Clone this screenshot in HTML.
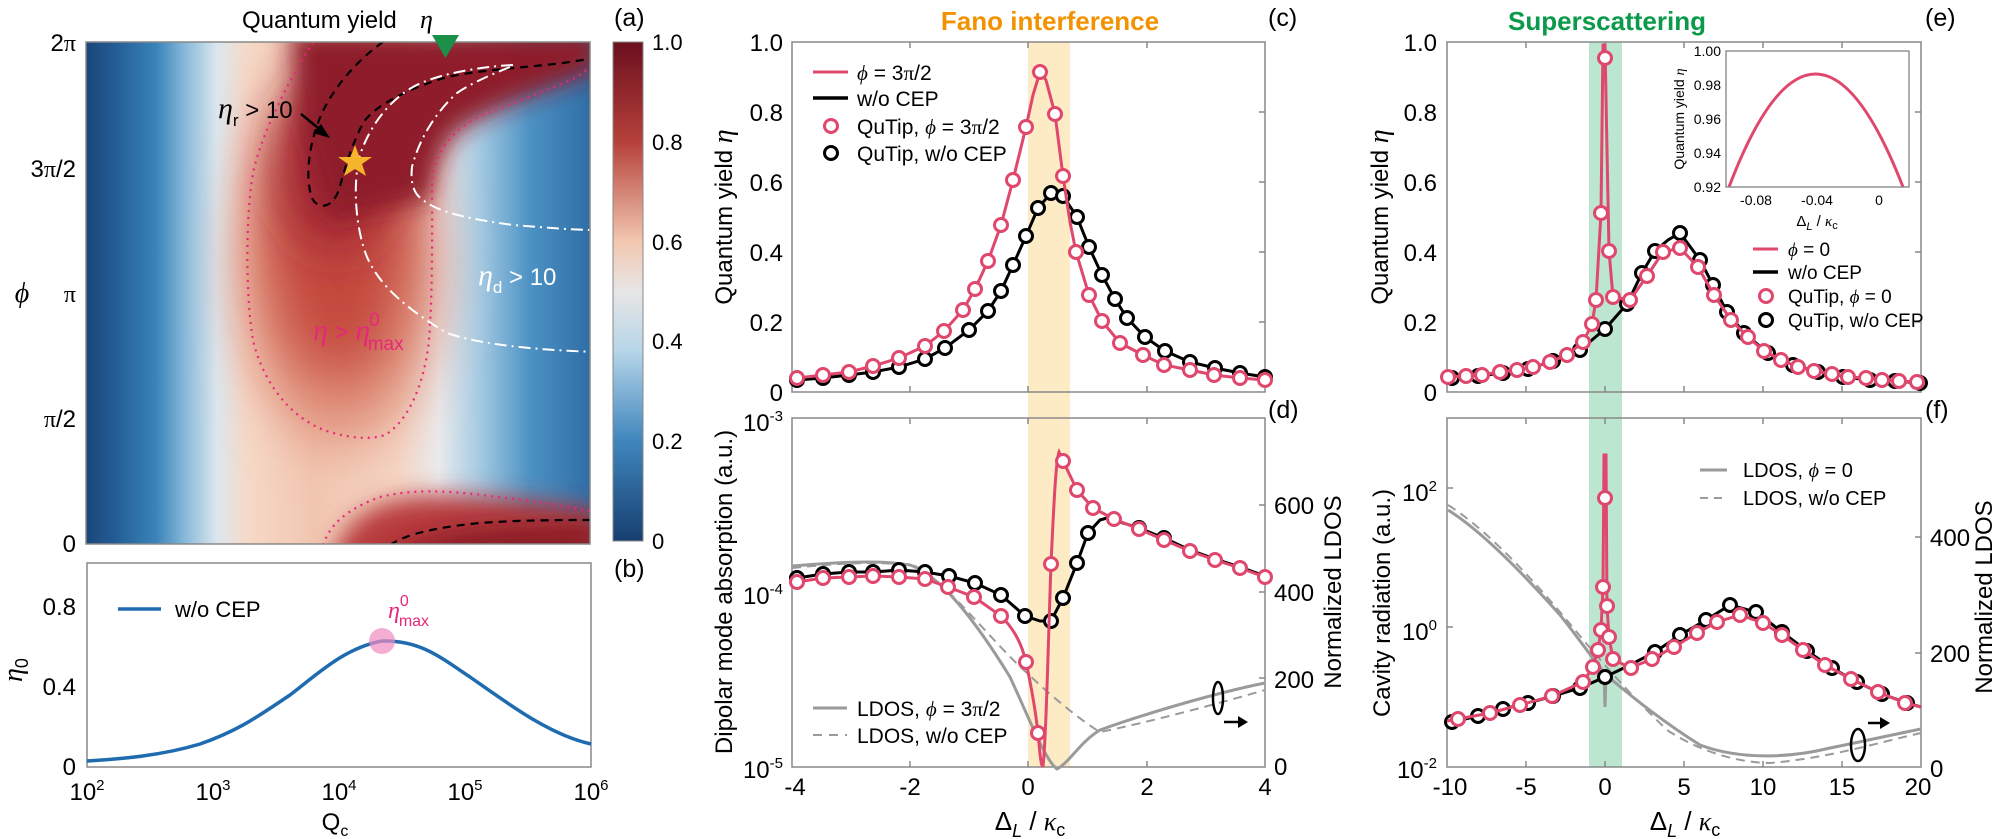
<!DOCTYPE html>
<html><head><meta charset="utf-8"><style>
body{margin:0;background:#fff}
svg{display:block;font-family:"Liberation Sans",sans-serif}
</style></head><body>
<svg width="2000" height="839" viewBox="0 0 2000 839" xmlns="http://www.w3.org/2000/svg">
<defs>
<linearGradient id="base" x1="0" y1="0" x2="1" y2="0">
<stop offset="0" stop-color="#1a4679"/><stop offset="0.06" stop-color="#245d96"/><stop offset="0.14" stop-color="#3a84bb"/><stop offset="0.2" stop-color="#8dbcdb"/><stop offset="0.26" stop-color="#dce7ee"/><stop offset="0.32" stop-color="#f6d9c8"/><stop offset="0.45" stop-color="#f1c6b0"/><stop offset="0.62" stop-color="#f5d6c5"/><stop offset="0.7" stop-color="#eaebed"/><stop offset="0.78" stop-color="#a6cbe3"/><stop offset="0.88" stop-color="#4d92c4"/><stop offset="1" stop-color="#2f6ea6"/>
</linearGradient>
<linearGradient id="cb" x1="0" y1="0" x2="0" y2="1">
<stop offset="0" stop-color="#6b0f1e"/><stop offset="0.2" stop-color="#b5413a"/><stop offset="0.4" stop-color="#f2c7b0"/><stop offset="0.5" stop-color="#e8e6e6"/><stop offset="0.62" stop-color="#b6d5e8"/><stop offset="0.8" stop-color="#3f86bd"/><stop offset="1" stop-color="#173f70"/>
</linearGradient>
<filter id="bl" x="-60%" y="-60%" width="220%" height="220%"><feGaussianBlur stdDeviation="28"/></filter>
<filter id="bl2" x="-60%" y="-60%" width="220%" height="220%"><feGaussianBlur stdDeviation="12"/></filter>
<clipPath id="ca"><rect x="86" y="42" width="504" height="502"/></clipPath>
</defs>

<!-- Panel a heatmap -->
<g clip-path="url(#ca)">
<rect x="86" y="42" width="504" height="502" fill="url(#base)"/>
<ellipse cx="340" cy="270" rx="95" ry="175" fill="#e0907a" filter="url(#bl)"/>
<ellipse cx="338" cy="240" rx="70" ry="140" fill="#c4493d" filter="url(#bl)"/>
<ellipse cx="335" cy="160" rx="55" ry="90" fill="#9c2430" filter="url(#bl)"/>
<path d="M290 30 L600 30 L600 70 C560 85 500 105 460 130 C440 150 432 180 430 200 L330 220 L300 120 Z" fill="#8e1c2a" filter="url(#bl2)"/>
<path d="M330 570 C340 520 370 500 430 495 C500 495 560 505 600 512 L600 570 Z" fill="#b83a3c" filter="url(#bl2)"/>
<path d="M380 570 C410 532 470 524 600 522 L600 570 Z" fill="#8a1a28" filter="url(#bl2)"/>
<!-- contours -->
<path d="M313 42 C295 70 262 130 253 173 C245 220 246 300 253 340 C262 380 290 420 330 432 C350 438 370 440 385 435 C410 420 425 380 429 340 C433 290 432 220 432 180 C436 150 455 125 490 112 C520 100 550 90 577 77 L595 64" fill="none" stroke="#e6287a" stroke-width="2.2" stroke-dasharray="2 5"/>
<path d="M323 545 C330 525 345 510 380 497 C410 490 440 489 497 497 C530 500 560 505 595 512" fill="none" stroke="#e6287a" stroke-width="2.2" stroke-dasharray="2 5"/>
<path d="M383 42 C360 58 335 85 322 113 C310 140 304 175 312 198 C318 210 332 208 338 192 C344 175 347 155 363 123 C375 105 410 88 447 77 C480 70 520 68 563 63 L595 58" fill="none" stroke="#000" stroke-width="2.2" stroke-dasharray="8 6"/>
<path d="M390 545 C405 535 430 528 480 523 C520 520 560 520 595 520" fill="none" stroke="#000" stroke-width="2.2" stroke-dasharray="8 6"/>
<path d="M513 65 C490 66 440 72 413 87 C390 100 370 125 360 155 C352 185 356 230 367 257 C378 282 400 305 447 333 C480 345 540 350 595 352" fill="none" stroke="#fff" stroke-width="2" stroke-dasharray="12 5 2 5"/>
<path d="M510 67 C490 75 470 84 457 93 C440 108 420 135 412 167 C410 185 415 195 423 200 C435 210 460 218 513 225 C550 228 575 230 595 230" fill="none" stroke="#fff" stroke-width="2" stroke-dasharray="12 5 2 5"/>
</g>
<rect x="86" y="42" width="504" height="502" fill="none" stroke="#888" stroke-width="1.5"/>
<polygon points="355,145 359.5,157 372,157 362,164 366,176 355,169 344,176 348,164 338,157 350.5,157" fill="#f6b42a"/>
<polygon points="432,35 459,35 445.5,58" fill="#1a9048"/>
<text x="242" y="28" font-size="24">Quantum yield</text>
<text x="420" y="28" font-size="26" font-style="italic" font-family="Liberation Serif,serif">η</text>
<text x="218" y="118" font-size="24"><tspan font-style="italic" font-family="Liberation Serif,serif" font-size="30">η</tspan><tspan font-size="17" dy="8">r</tspan><tspan dy="-8"> &gt; 10</tspan></text>
<line x1="301" y1="114" x2="323" y2="132" stroke="#000" stroke-width="2.5"/>
<polygon points="330,138 313,133 321,124" fill="#000"/>
<text x="478" y="285" font-size="24" fill="#fff"><tspan font-style="italic" font-family="Liberation Serif,serif" font-size="30">η</tspan><tspan font-size="17" dy="8">d</tspan><tspan dy="-8"> &gt; 10</tspan></text>
<text x="313" y="340" font-size="24" fill="#e6287a"><tspan font-style="italic" font-family="Liberation Serif,serif" font-size="30">η</tspan> &gt; <tspan font-style="italic" font-family="Liberation Serif,serif" font-size="30">η</tspan><tspan font-size="19" dx="-1" dy="-14">0</tspan><tspan font-size="19" dx="-12" dy="24">max</tspan></text>
<g font-size="24" text-anchor="end">
<text x="76" y="51">2<tspan font-family="Liberation Serif,serif">π</tspan></text>
<text x="76" y="177">3<tspan font-family="Liberation Serif,serif">π</tspan>/2</text>
<text x="76" y="302"><tspan font-family="Liberation Serif,serif">π</tspan></text>
<text x="76" y="427"><tspan font-family="Liberation Serif,serif">π</tspan>/2</text>
<text x="76" y="552">0</text>
</g>
<text x="22" y="302" font-size="28" font-style="italic" font-family="Liberation Serif,serif" text-anchor="middle">ϕ</text>
<!-- colorbar -->
<rect x="613" y="42" width="30" height="499" fill="url(#cb)" stroke="#888" stroke-width="1"/>
<g font-size="22">
<text x="652" y="50">1.0</text><text x="652" y="150">0.8</text><text x="652" y="250">0.6</text><text x="652" y="349">0.4</text><text x="652" y="449">0.2</text><text x="652" y="549">0</text>
</g>
<text x="614" y="26" font-size="25">(a)</text>
<text x="614" y="577" font-size="25">(b)</text>

<!-- Panel b -->
<rect x="87" y="563" width="504" height="204" fill="none" stroke="#888" stroke-width="1.5"/>
<path d="M87 761 C120 759 160 756 200 744 C240 730 260 715 290 695 C320 672 345 648 382 641 C420 640 440 657 470 677 C510 705 550 735 591 744" fill="none" stroke="#1e6bb0" stroke-width="3.5"/>
<ellipse cx="382" cy="641" rx="13" ry="13" fill="#f08cc0" opacity="0.7"/>
<line x1="118" y1="609" x2="161" y2="609" stroke="#1e6bb0" stroke-width="3.5"/>
<text x="175" y="617" font-size="22">w/o CEP</text>
<text x="388" y="618" font-size="16" fill="#e6287a"><tspan font-style="italic" font-family="Liberation Serif,serif" font-size="24">η</tspan><tspan dy="-12">0</tspan><tspan dx="-10" dy="20">max</tspan></text>
<g font-size="24" text-anchor="end">
<text x="76" y="615">0.8</text><text x="76" y="695">0.4</text><text x="76" y="775">0</text>
</g>
<text x="22" y="670" font-size="28" font-style="italic" font-family="Liberation Serif,serif" text-anchor="middle" transform="rotate(-90 22 670)">η<tspan font-size="18" font-style="normal" font-family="Liberation Sans,sans-serif" dy="6">0</tspan></text>
<g font-size="24" text-anchor="middle">
<text x="87" y="800">10<tspan font-size="15" dy="-10">2</tspan></text>
<text x="213" y="800">10<tspan font-size="15" dy="-10">3</tspan></text>
<text x="339" y="800">10<tspan font-size="15" dy="-10">4</tspan></text>
<text x="465" y="800">10<tspan font-size="15" dy="-10">5</tspan></text>
<text x="591" y="800">10<tspan font-size="15" dy="-10">6</tspan></text>
<text x="335" y="830">Q<tspan font-size="16" dy="6">c</tspan></text>
</g>

<!-- Titles -->
<text x="1050" y="30" font-size="26" font-weight="bold" fill="#f39200" text-anchor="middle">Fano interference</text>
<text x="1607" y="30" font-size="26" font-weight="bold" fill="#0a9a4a" text-anchor="middle">Superscattering</text>
<text x="1268" y="26" font-size="25">(c)</text>
<text x="1268" y="418" font-size="25">(d)</text>
<text x="1925" y="26" font-size="25">(e)</text>
<text x="1925" y="418" font-size="25">(f)</text>

<!-- Panel c -->
<rect x="1028" y="42" width="42" height="725" fill="#fdebc6"/>
<rect x="792" y="42" width="473" height="350" fill="none" stroke="#888" stroke-width="1.5"/>
<g stroke="#888" stroke-width="1.5">
<line x1="910" y1="42" x2="910" y2="48"/><line x1="1028" y1="42" x2="1028" y2="48"/><line x1="1147" y1="42" x2="1147" y2="48"/>
<line x1="910" y1="392" x2="910" y2="386"/><line x1="1028" y1="392" x2="1028" y2="386"/><line x1="1147" y1="392" x2="1147" y2="386"/>
<line x1="1265" y1="112" x2="1259" y2="112"/><line x1="1265" y1="182" x2="1259" y2="182"/><line x1="1265" y1="252" x2="1259" y2="252"/><line x1="1265" y1="322" x2="1259" y2="322"/>
</g>
<polyline fill="none" stroke="#000" stroke-width="3" points="797,380 823,378 849,375 873,372 899,367 925,359 945,348 969,330 988,311 1001,291 1013,265 1026,236 1038,208 1051,193 1063,196 1077,217 1089,247 1102,275 1115,299 1127,318 1145,337 1165,351 1190,362 1215,368 1240,373 1265,377"/>
<g fill="#fff" stroke="#000" stroke-width="3">
<circle cx="797" cy="380" r="6.5"/><circle cx="823" cy="378" r="6.5"/><circle cx="849" cy="375" r="6.5"/><circle cx="873" cy="372" r="6.5"/><circle cx="899" cy="367" r="6.5"/><circle cx="925" cy="359" r="6.5"/><circle cx="945" cy="348" r="6.5"/><circle cx="969" cy="330" r="6.5"/><circle cx="988" cy="311" r="6.5"/><circle cx="1001" cy="291" r="6.5"/><circle cx="1013" cy="265" r="6.5"/><circle cx="1026" cy="236" r="6.5"/><circle cx="1038" cy="208" r="6.5"/><circle cx="1051" cy="193" r="6.5"/><circle cx="1063" cy="196" r="6.5"/><circle cx="1077" cy="217" r="6.5"/><circle cx="1089" cy="247" r="6.5"/><circle cx="1102" cy="275" r="6.5"/><circle cx="1115" cy="299" r="6.5"/><circle cx="1127" cy="318" r="6.5"/><circle cx="1145" cy="337" r="6.5"/><circle cx="1165" cy="351" r="6.5"/><circle cx="1190" cy="362" r="6.5"/><circle cx="1215" cy="368" r="6.5"/><circle cx="1240" cy="373" r="6.5"/><circle cx="1265" cy="377" r="6.5"/>
</g>
<polyline fill="none" stroke="#e0476d" stroke-width="3" points="797,378 823,375 849,372 873,366 899,358 925,346 944,331 963,310 975,289 988,261 1001,225 1013,180 1026,127 1033,95 1040,72 1046,80 1055,114 1063,176 1070,222 1076,252 1089,295 1102,321 1120,343 1143,355 1164,365 1190,370 1214,375 1240,378 1265,380"/>
<g fill="#fff" stroke="#e0476d" stroke-width="3">
<circle cx="797" cy="378" r="6.5"/><circle cx="823" cy="375" r="6.5"/><circle cx="849" cy="372" r="6.5"/><circle cx="873" cy="366" r="6.5"/><circle cx="899" cy="358" r="6.5"/><circle cx="925" cy="346" r="6.5"/><circle cx="944" cy="331" r="6.5"/><circle cx="963" cy="310" r="6.5"/><circle cx="975" cy="289" r="6.5"/><circle cx="988" cy="261" r="6.5"/><circle cx="1001" cy="225" r="6.5"/><circle cx="1013" cy="180" r="6.5"/><circle cx="1026" cy="127" r="6.5"/><circle cx="1040" cy="72" r="6.5"/><circle cx="1055" cy="114" r="6.5"/><circle cx="1063" cy="176" r="6.5"/><circle cx="1076" cy="252" r="6.5"/><circle cx="1089" cy="295" r="6.5"/><circle cx="1102" cy="321" r="6.5"/><circle cx="1120" cy="343" r="6.5"/><circle cx="1143" cy="355" r="6.5"/><circle cx="1164" cy="365" r="6.5"/><circle cx="1190" cy="370" r="6.5"/><circle cx="1214" cy="375" r="6.5"/><circle cx="1240" cy="378" r="6.5"/><circle cx="1265" cy="380" r="6.5"/>
</g>
<line x1="813" y1="72" x2="848" y2="72" stroke="#e0476d" stroke-width="3"/>
<line x1="813" y1="98" x2="848" y2="98" stroke="#000" stroke-width="3.5"/>
<circle cx="831" cy="126" r="6.5" fill="#fff" stroke="#e0476d" stroke-width="3"/>
<circle cx="831" cy="153" r="6.5" fill="#fff" stroke="#000" stroke-width="3"/>
<g font-size="21">
<text x="857" y="80"><tspan font-style="italic" font-family="Liberation Serif,serif">ϕ</tspan> = 3<tspan font-family="Liberation Serif,serif">π</tspan>/2</text>
<text x="857" y="106">w/o CEP</text>
<text x="857" y="134">QuTip, <tspan font-style="italic" font-family="Liberation Serif,serif">ϕ</tspan> = 3<tspan font-family="Liberation Serif,serif">π</tspan>/2</text>
<text x="857" y="161">QuTip, w/o CEP</text>
</g>
<g font-size="24" text-anchor="end">
<text x="783" y="51">1.0</text><text x="783" y="121">0.8</text><text x="783" y="191">0.6</text><text x="783" y="261">0.4</text><text x="783" y="331">0.2</text><text x="783" y="401">0</text>
</g>
<text x="0" y="0" font-size="24" text-anchor="middle" transform="translate(732 217) rotate(-90)">Quantum yield <tspan font-style="italic" font-family="Liberation Serif,serif" font-size="28">η</tspan></text>

<!-- Panel d -->
<rect x="792" y="418" width="473" height="349" fill="none" stroke="#888" stroke-width="1.5"/>
<g stroke="#888" stroke-width="1.5">
<line x1="910" y1="418" x2="910" y2="424"/><line x1="1028" y1="418" x2="1028" y2="424"/><line x1="1147" y1="418" x2="1147" y2="424"/>
<line x1="910" y1="767" x2="910" y2="761"/><line x1="1028" y1="767" x2="1028" y2="761"/><line x1="1147" y1="767" x2="1147" y2="761"/>
<line x1="1265" y1="505" x2="1259" y2="505"/><line x1="1265" y1="592" x2="1259" y2="592"/><line x1="1265" y1="678" x2="1259" y2="678"/>
</g>
<path d="M792 566 C840 562 880 560 910 565 C940 575 975 620 1010 677 C1030 720 1045 760 1057 769 C1070 762 1080 742 1100 730 C1150 712 1220 692 1265 683" fill="none" stroke="#9a9a9a" stroke-width="3"/>
<path d="M792 568 C840 563 880 561 915 566 C950 585 990 640 1027 673 C1050 695 1080 720 1100 732 C1150 722 1220 703 1265 690" fill="none" stroke="#9a9a9a" stroke-width="2" stroke-dasharray="9 6"/>
<polyline fill="none" stroke="#000" stroke-width="3" points="797,578 823,574 849,572 873,572 899,570 925,572 949,576 975,583 1001,595 1025,616 1040,621 1051,621 1063,598 1077,563 1088,533 1100,520 1107,518 1139,528 1164,538 1190,550 1215,559 1240,567 1265,576"/>
<g fill="#fff" stroke="#000" stroke-width="3">
<circle cx="797" cy="578" r="6.5"/><circle cx="823" cy="574" r="6.5"/><circle cx="849" cy="572" r="6.5"/><circle cx="873" cy="572" r="6.5"/><circle cx="899" cy="570" r="6.5"/><circle cx="925" cy="572" r="6.5"/><circle cx="949" cy="576" r="6.5"/><circle cx="975" cy="583" r="6.5"/><circle cx="1001" cy="595" r="6.5"/><circle cx="1025" cy="616" r="6.5"/><circle cx="1051" cy="621" r="6.5"/><circle cx="1063" cy="598" r="6.5"/><circle cx="1077" cy="563" r="6.5"/><circle cx="1088" cy="533" r="6.5"/><circle cx="1139" cy="528" r="6.5"/><circle cx="1164" cy="538" r="6.5"/>
</g>
<path d="M797 582 L823 578 L849 577 L873 576 L899 577 L925 579 L948 587 L974 597 L1001 616 C1015 630 1022 645 1026 662 C1032 690 1036 715 1038 733 C1040 755 1041 767 1043 766 C1046 740 1048 650 1051 564 C1054 500 1056 460 1059 452 L1063 461 L1077 490 L1093 508 L1114 519 L1139 529 L1164 540 L1190 551 L1215 560 L1240 568 L1265 577" fill="none" stroke="#e0476d" stroke-width="3"/>
<g fill="#fff" stroke="#e0476d" stroke-width="3">
<circle cx="797" cy="582" r="6.5"/><circle cx="823" cy="578" r="6.5"/><circle cx="849" cy="577" r="6.5"/><circle cx="873" cy="576" r="6.5"/><circle cx="899" cy="577" r="6.5"/><circle cx="925" cy="579" r="6.5"/><circle cx="948" cy="587" r="6.5"/><circle cx="974" cy="597" r="6.5"/><circle cx="1001" cy="616" r="6.5"/><circle cx="1026" cy="662" r="6.5"/><circle cx="1038" cy="733" r="6.5"/><circle cx="1051" cy="564" r="6.5"/><circle cx="1063" cy="461" r="6.5"/><circle cx="1077" cy="490" r="6.5"/><circle cx="1093" cy="508" r="6.5"/><circle cx="1114" cy="519" r="6.5"/><circle cx="1139" cy="529" r="6.5"/><circle cx="1164" cy="540" r="6.5"/><circle cx="1190" cy="551" r="6.5"/><circle cx="1215" cy="560" r="6.5"/><circle cx="1240" cy="568" r="6.5"/><circle cx="1265" cy="577" r="6.5"/>
</g>
<ellipse cx="1218" cy="698" rx="5" ry="16" fill="none" stroke="#000" stroke-width="2.5"/>
<line x1="1224" y1="722" x2="1240" y2="722" stroke="#000" stroke-width="2.5"/><polygon points="1248,722 1238,716 1238,728" fill="#000"/>
<line x1="813" y1="708" x2="847" y2="708" stroke="#9a9a9a" stroke-width="3"/>
<line x1="813" y1="735" x2="847" y2="735" stroke="#9a9a9a" stroke-width="2" stroke-dasharray="9 7"/>
<g font-size="21">
<text x="857" y="716">LDOS, <tspan font-style="italic" font-family="Liberation Serif,serif">ϕ</tspan> = 3<tspan font-family="Liberation Serif,serif">π</tspan>/2</text>
<text x="857" y="743">LDOS, w/o CEP</text>
</g>
<g font-size="24" text-anchor="end">
<text x="783" y="431">10<tspan font-size="15" dy="-10">-3</tspan></text>
<text x="783" y="604">10<tspan font-size="15" dy="-10">-4</tspan></text>
<text x="783" y="778">10<tspan font-size="15" dy="-10">-5</tspan></text>
</g>
<g font-size="24">
<text x="1274" y="775">0</text><text x="1274" y="688">200</text><text x="1274" y="601">400</text><text x="1274" y="514">600</text>
</g>
<g font-size="24" text-anchor="middle">
<text x="795" y="795">-4</text><text x="910" y="795">-2</text><text x="1028" y="795">0</text><text x="1147" y="795">2</text><text x="1265" y="795">4</text>
</g>
<text x="1030" y="830" font-size="26" text-anchor="middle">Δ<tspan font-size="18" font-style="italic" dy="7">L</tspan><tspan dy="-7"> / </tspan><tspan font-style="italic" font-family="Liberation Serif,serif">κ</tspan><tspan font-size="18" dy="6">c</tspan></text>
<text x="0" y="0" font-size="24" text-anchor="middle" transform="translate(732 592) rotate(-90)">Dipolar mode absorption (a.u.)</text>
<text x="0" y="0" font-size="24" text-anchor="middle" transform="translate(1341 592) rotate(-90)">Normalized LDOS</text>

<!-- Panel e -->
<rect x="1589" y="42" width="33" height="725" fill="#bce6d0"/>
<rect x="1447" y="42" width="474" height="350" fill="none" stroke="#888" stroke-width="1.5"/>
<g stroke="#888" stroke-width="1.5">
<line x1="1526" y1="42" x2="1526" y2="48"/><line x1="1605" y1="42" x2="1605" y2="48"/><line x1="1684" y1="42" x2="1684" y2="48"/><line x1="1763" y1="42" x2="1763" y2="48"/><line x1="1842" y1="42" x2="1842" y2="48"/>
<line x1="1526" y1="392" x2="1526" y2="386"/><line x1="1605" y1="392" x2="1605" y2="386"/><line x1="1684" y1="392" x2="1684" y2="386"/><line x1="1763" y1="392" x2="1763" y2="386"/><line x1="1842" y1="392" x2="1842" y2="386"/>
<line x1="1921" y1="112" x2="1915" y2="112"/><line x1="1921" y1="182" x2="1915" y2="182"/><line x1="1921" y1="252" x2="1915" y2="252"/><line x1="1921" y1="322" x2="1915" y2="322"/>
</g>
<polyline fill="none" stroke="#000" stroke-width="3" points="1452,378 1478,376 1503,373 1528,369 1553,361 1580,350 1605,329 1627,304 1642,273 1655,251 1668,240 1680,233 1700,260 1713,285 1727,312 1744,333 1768,353 1793,365 1818,372 1843,377 1870,380 1895,381 1920,383"/>
<g fill="#fff" stroke="#000" stroke-width="3">
<circle cx="1452" cy="378" r="6.5"/><circle cx="1478" cy="376" r="6.5"/><circle cx="1503" cy="373" r="6.5"/><circle cx="1528" cy="369" r="6.5"/><circle cx="1553" cy="361" r="6.5"/><circle cx="1580" cy="350" r="6.5"/><circle cx="1605" cy="329" r="6.5"/><circle cx="1627" cy="304" r="6.5"/><circle cx="1642" cy="273" r="6.5"/><circle cx="1655" cy="251" r="6.5"/><circle cx="1680" cy="233" r="6.5"/><circle cx="1700" cy="260" r="6.5"/><circle cx="1713" cy="285" r="6.5"/><circle cx="1727" cy="312" r="6.5"/><circle cx="1744" cy="333" r="6.5"/><circle cx="1768" cy="353" r="6.5"/><circle cx="1793" cy="365" r="6.5"/><circle cx="1818" cy="372" r="6.5"/><circle cx="1843" cy="377" r="6.5"/><circle cx="1870" cy="380" r="6.5"/><circle cx="1895" cy="381" r="6.5"/><circle cx="1920" cy="383" r="6.5"/>
</g>
<polyline fill="none" stroke="#e0476d" stroke-width="3" points="1448,377 1466,376 1482,375 1500,372 1517,370 1533,367 1550,362 1567,355 1583,342 1592,324 1596,300 1601,213 1603,45 1605,45 1607,150 1609,251 1613,297 1630,300 1647,276 1663,252 1680,248 1698,267 1714,295 1731,320 1748,337 1764,351 1781,360 1798,367 1814,371 1832,374 1848,377 1866,378 1882,380 1899,381 1917,382"/>
<g fill="#fff" stroke="#e0476d" stroke-width="3">
<circle cx="1448" cy="377" r="6.5"/><circle cx="1466" cy="376" r="6.5"/><circle cx="1482" cy="375" r="6.5"/><circle cx="1500" cy="372" r="6.5"/><circle cx="1517" cy="370" r="6.5"/><circle cx="1533" cy="367" r="6.5"/><circle cx="1550" cy="362" r="6.5"/><circle cx="1567" cy="355" r="6.5"/><circle cx="1583" cy="342" r="6.5"/><circle cx="1592" cy="324" r="6.5"/><circle cx="1596" cy="300" r="6.5"/><circle cx="1601" cy="213" r="6.5"/><circle cx="1605" cy="58" r="6.5"/><circle cx="1609" cy="251" r="6.5"/><circle cx="1613" cy="297" r="6.5"/><circle cx="1630" cy="300" r="6.5"/><circle cx="1647" cy="276" r="6.5"/><circle cx="1663" cy="252" r="6.5"/><circle cx="1680" cy="248" r="6.5"/><circle cx="1698" cy="267" r="6.5"/><circle cx="1714" cy="295" r="6.5"/><circle cx="1731" cy="320" r="6.5"/><circle cx="1748" cy="337" r="6.5"/><circle cx="1764" cy="351" r="6.5"/><circle cx="1781" cy="360" r="6.5"/><circle cx="1798" cy="367" r="6.5"/><circle cx="1814" cy="371" r="6.5"/><circle cx="1832" cy="374" r="6.5"/><circle cx="1848" cy="377" r="6.5"/><circle cx="1866" cy="378" r="6.5"/><circle cx="1882" cy="380" r="6.5"/><circle cx="1899" cy="381" r="6.5"/><circle cx="1917" cy="382" r="6.5"/>
</g>
<!-- inset -->
<rect x="1726" y="51" width="183" height="136" fill="#fff" stroke="#888" stroke-width="1.2"/>
<path d="M1729 187 Q1815 -39 1903 187" fill="none" stroke="#e0476d" stroke-width="3"/>
<rect x="1726" y="51" width="183" height="136" fill="none" stroke="#888" stroke-width="1.2"/>
<g font-size="14" text-anchor="end">
<text x="1721" y="56">1.00</text><text x="1721" y="90">0.98</text><text x="1721" y="124">0.96</text><text x="1721" y="158">0.94</text><text x="1721" y="192">0.92</text>
</g>
<g font-size="14" text-anchor="middle">
<text x="1756" y="205">-0.08</text><text x="1817" y="205">-0.04</text><text x="1879" y="205">0</text>
</g>
<text x="1817" y="226" font-size="15" text-anchor="middle">Δ<tspan font-size="11" font-style="italic" dy="4">L</tspan><tspan dy="-4"> / </tspan><tspan font-style="italic" font-family="Liberation Serif,serif">κ</tspan><tspan font-size="11" dy="3">c</tspan></text>
<text x="0" y="0" font-size="14" text-anchor="middle" transform="translate(1684 119) rotate(-90)">Quantum yield <tspan font-style="italic" font-family="Liberation Serif,serif">η</tspan></text>
<!-- e legend -->
<line x1="1753" y1="249" x2="1778" y2="249" stroke="#e0476d" stroke-width="3"/>
<line x1="1753" y1="272" x2="1778" y2="272" stroke="#000" stroke-width="3.5"/>
<circle cx="1766" cy="296" r="6.5" fill="#fff" stroke="#e0476d" stroke-width="3"/>
<circle cx="1766" cy="320" r="6.5" fill="#fff" stroke="#000" stroke-width="3"/>
<g font-size="19">
<text x="1788" y="256"><tspan font-style="italic" font-family="Liberation Serif,serif">ϕ</tspan> = 0</text>
<text x="1788" y="279">w/o CEP</text>
<text x="1788" y="303">QuTip, <tspan font-style="italic" font-family="Liberation Serif,serif">ϕ</tspan> = 0</text>
<text x="1788" y="327">QuTip, w/o CEP</text>
</g>
<g font-size="24" text-anchor="end">
<text x="1437" y="51">1.0</text><text x="1437" y="121">0.8</text><text x="1437" y="191">0.6</text><text x="1437" y="261">0.4</text><text x="1437" y="331">0.2</text><text x="1437" y="401">0</text>
</g>
<text x="0" y="0" font-size="24" text-anchor="middle" transform="translate(1388 217) rotate(-90)">Quantum yield <tspan font-style="italic" font-family="Liberation Serif,serif" font-size="28">η</tspan></text>

<!-- Panel f -->
<rect x="1447" y="418" width="474" height="349" fill="none" stroke="#888" stroke-width="1.5"/>
<g stroke="#888" stroke-width="1.5">
<line x1="1526" y1="418" x2="1526" y2="424"/><line x1="1605" y1="418" x2="1605" y2="424"/><line x1="1684" y1="418" x2="1684" y2="424"/><line x1="1763" y1="418" x2="1763" y2="424"/><line x1="1842" y1="418" x2="1842" y2="424"/>
<line x1="1526" y1="767" x2="1526" y2="761"/><line x1="1605" y1="767" x2="1605" y2="761"/><line x1="1684" y1="767" x2="1684" y2="761"/><line x1="1763" y1="767" x2="1763" y2="761"/><line x1="1842" y1="767" x2="1842" y2="761"/>
<line x1="1447" y1="488" x2="1453" y2="488"/><line x1="1447" y1="627" x2="1453" y2="627"/>
<line x1="1921" y1="537" x2="1915" y2="537"/><line x1="1921" y1="653" x2="1915" y2="653"/>
</g>
<path d="M1448 510 C1480 530 1520 570 1560 615 C1580 640 1595 662 1604 672 L1605 707 L1606 675 C1630 695 1660 720 1700 745 C1740 760 1790 758 1830 748 C1870 740 1900 733 1921 729" fill="none" stroke="#9a9a9a" stroke-width="3"/>
<path d="M1448 505 C1480 525 1520 565 1560 612 C1590 648 1620 685 1667 730 C1700 752 1740 763 1770 763 C1830 758 1880 742 1921 733" fill="none" stroke="#9a9a9a" stroke-width="2" stroke-dasharray="9 6"/>
<polyline fill="none" stroke="#000" stroke-width="3" points="1452,722 1478,716 1503,709 1528,703 1553,696 1580,688 1605,677 1630,665 1655,652 1680,635 1706,620 1730,605 1756,612 1782,632 1807,651 1832,668 1857,682 1882,694 1907,703 1921,707"/>
<g fill="#fff" stroke="#000" stroke-width="3">
<circle cx="1452" cy="722" r="6.5"/><circle cx="1478" cy="716" r="6.5"/><circle cx="1503" cy="709" r="6.5"/><circle cx="1528" cy="703" r="6.5"/><circle cx="1553" cy="696" r="6.5"/><circle cx="1580" cy="688" r="6.5"/><circle cx="1605" cy="677" r="6.5"/><circle cx="1655" cy="652" r="6.5"/><circle cx="1680" cy="635" r="6.5"/><circle cx="1706" cy="620" r="6.5"/><circle cx="1730" cy="605" r="6.5"/><circle cx="1756" cy="612" r="6.5"/><circle cx="1782" cy="632" r="6.5"/><circle cx="1807" cy="651" r="6.5"/><circle cx="1832" cy="668" r="6.5"/><circle cx="1857" cy="682" r="6.5"/><circle cx="1882" cy="694" r="6.5"/><circle cx="1907" cy="703" r="6.5"/>
</g>
<polyline fill="none" stroke="#e0476d" stroke-width="3" points="1447,721 1458,719 1490,713 1520,705 1552,696 1583,682 1593,667 1598,650 1601,630 1603,587 1604,455 1606,455 1607,606 1609,637 1613,659 1630,668 1652,659 1674,647 1697,633 1717,622 1740,615 1763,623 1782,635 1803,650 1825,665 1851,679 1878,692 1905,703 1921,707"/>
<g fill="#fff" stroke="#e0476d" stroke-width="3">
<circle cx="1458" cy="719" r="6.5"/><circle cx="1490" cy="713" r="6.5"/><circle cx="1520" cy="705" r="6.5"/><circle cx="1552" cy="696" r="6.5"/><circle cx="1583" cy="682" r="6.5"/><circle cx="1593" cy="667" r="6.5"/><circle cx="1598" cy="650" r="6.5"/><circle cx="1601" cy="630" r="6.5"/><circle cx="1603" cy="587" r="6.5"/><circle cx="1605" cy="498" r="6.5"/><circle cx="1607" cy="606" r="6.5"/><circle cx="1609" cy="637" r="6.5"/><circle cx="1613" cy="659" r="6.5"/><circle cx="1631" cy="668" r="6.5"/><circle cx="1652" cy="659" r="6.5"/><circle cx="1674" cy="647" r="6.5"/><circle cx="1697" cy="633" r="6.5"/><circle cx="1717" cy="622" r="6.5"/><circle cx="1740" cy="615" r="6.5"/><circle cx="1763" cy="623" r="6.5"/><circle cx="1782" cy="635" r="6.5"/><circle cx="1803" cy="650" r="6.5"/><circle cx="1825" cy="665" r="6.5"/><circle cx="1851" cy="679" r="6.5"/><circle cx="1878" cy="692" r="6.5"/><circle cx="1905" cy="703" r="6.5"/>
</g>
<ellipse cx="1858" cy="745" rx="7" ry="16" fill="none" stroke="#000" stroke-width="2.5"/>
<line x1="1868" y1="723" x2="1882" y2="723" stroke="#000" stroke-width="2.5"/><polygon points="1890,723 1880,717 1880,729" fill="#000"/>
<line x1="1700" y1="470" x2="1727" y2="470" stroke="#9a9a9a" stroke-width="3"/>
<line x1="1700" y1="498" x2="1727" y2="498" stroke="#9a9a9a" stroke-width="2" stroke-dasharray="8 6"/>
<g font-size="20">
<text x="1743" y="477">LDOS, <tspan font-style="italic" font-family="Liberation Serif,serif">ϕ</tspan> = 0</text>
<text x="1743" y="505">LDOS, w/o CEP</text>
</g>
<g font-size="24" text-anchor="end">
<text x="1437" y="778">10<tspan font-size="15" dy="-10">-2</tspan></text>
<text x="1437" y="640">10<tspan font-size="15" dy="-10">0</tspan></text>
<text x="1437" y="501">10<tspan font-size="15" dy="-10">2</tspan></text>
</g>
<g font-size="24">
<text x="1930" y="777">0</text><text x="1930" y="662">200</text><text x="1930" y="546">400</text>
</g>
<g font-size="24" text-anchor="middle">
<text x="1450" y="795">-10</text><text x="1526" y="795">-5</text><text x="1605" y="795">0</text><text x="1684" y="795">5</text><text x="1763" y="795">10</text><text x="1842" y="795">15</text><text x="1918" y="795">20</text>
</g>
<text x="1685" y="830" font-size="26" text-anchor="middle">Δ<tspan font-size="18" font-style="italic" dy="7">L</tspan><tspan dy="-7"> / </tspan><tspan font-style="italic" font-family="Liberation Serif,serif">κ</tspan><tspan font-size="18" dy="6">c</tspan></text>
<text x="0" y="0" font-size="24" text-anchor="middle" transform="translate(1390 603) rotate(-90)">Cavity radiation (a.u.)</text>
<text x="0" y="0" font-size="24" text-anchor="middle" transform="translate(1992 597) rotate(-90)">Normalized LDOS</text>
</svg>
</body></html>
